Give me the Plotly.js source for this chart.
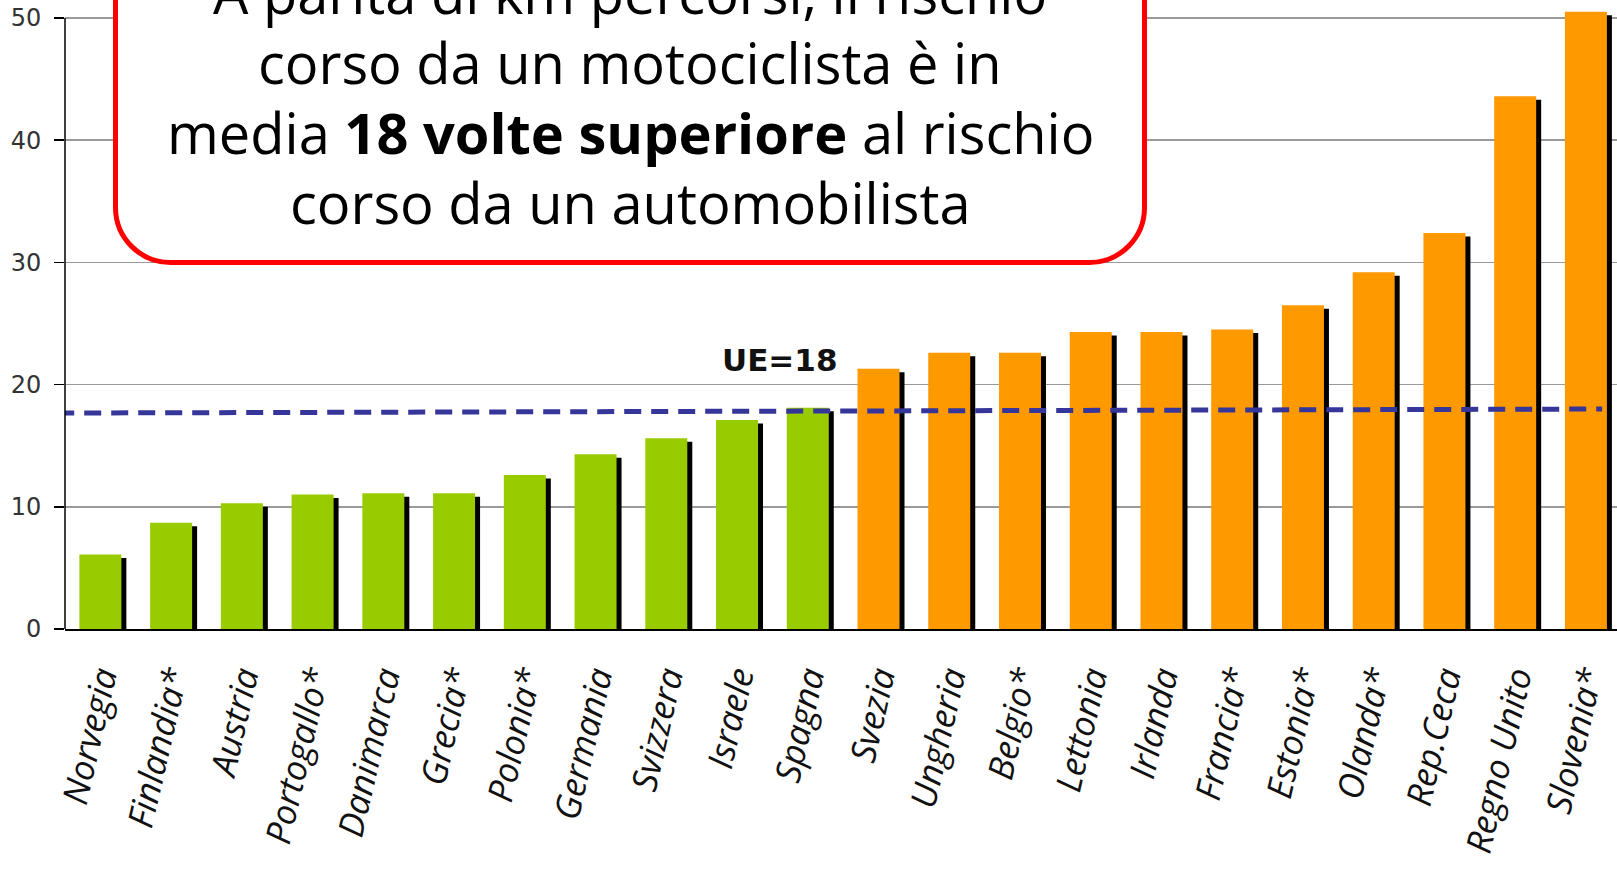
<!DOCTYPE html>
<html>
<head>
<meta charset="utf-8">
<script src="https://cdn.plot.ly/plotly-3.0.1.min.js"></script>
<style>
  html, body { margin: 0; padding: 0; background: #fff; }
  #chart { width: 1617px; height: 869px; }
</style>
</head>
<body>
<div id="chart"></div>
<script>
// Rischio motociclista / automobilista per km percorsi
const countries = ['Norvegia', 'Finlandia*', 'Austria', 'Portogallo*', 'Danimarca', 'Grecia*',
  'Polonia*', 'Germania', 'Svizzera', 'Israele', 'Spagna', 'Svezia', 'Ungheria', 'Belgio*',
  'Lettonia', 'Irlanda', 'Francia*', 'Estonia*', 'Olanda*', 'Rep.Ceca', 'Regno Unito', 'Slovenia*'];
const risk = [6.1, 8.7, 10.3, 11.0, 11.1, 11.1, 12.6, 14.3, 15.6, 17.1, 18.1,
  21.3, 22.6, 22.6, 24.3, 24.3, 24.5, 26.5, 29.2, 32.4, 43.6, 50.5];
const belowAvgCount = 11;          // first bars drawn in green
const ueLineX = [-0.61, 21.23];     // dashed UE line ends
const ueLineY = [17.67, 18.0];
const ueLabel = 'UE=18';
const yTicks = [0, 10, 20, 30, 40, 50];
const boxLines = [
  'A parità di km percorsi, il rischio',
  'corso da un motociclista è in',
  'media <b>18 volte superiore</b> al rischio',
  'corso da un automobilista'
];

// plot geometry (pixels)
const W = 1617, H = 869;
const L = 65, B = 240;
const plotW = W - L, plotH = H - B;
const band = 70.74;
const xRange = [-0.5, -0.5 + plotW / band];
const yRange = [0, 51.47];
const pxPerUnit = plotH / yRange[1];

const xs = countries.map((c, i) => i);
const colors = risk.map((v, i) => i < belowAvgCount ? '#99cc00' : '#ff9900');

const barW = 42 / band;
const shadowDx = 5 / band;
const shadowDy = 3.5 / pxPerUnit;

const shadow = {
  type: 'bar',
  x: xs,
  y: risk.map(v => v - shadowDy),
  width: barW,
  offset: -barW / 2 + shadowDx,
  marker: { color: '#000', line: { width: 0 } },
  hoverinfo: 'skip',
  showlegend: false,
};

const bars = {
  type: 'bar',
  x: xs,
  y: risk,
  width: barW,
  offset: -barW / 2,
  marker: { color: colors, line: { width: 0 } },
  showlegend: false,
};

const ueLine = {
  type: 'scatter',
  mode: 'lines',
  x: ueLineX,
  y: ueLineY,
  line: { color: '#35359a', width: 5, dash: '17px,10px' },
  cliponaxis: false,
  hoverinfo: 'skip',
  showlegend: false,
};

// helpers pixel -> paper
const xp = px => (px - L) / plotW;
const yp = py => (plotH - py) / plotH;

// rounded red box
function roundedBox(x0, y0, x1, y1, r) {
  const k = 0.5523 * r;
  const p = [];
  p.push(`M${xp(x0 + r)},${yp(y0)}`);
  p.push(`L${xp(x1 - r)},${yp(y0)}`);
  p.push(`C${xp(x1 - r + k)},${yp(y0)} ${xp(x1)},${yp(y0 + r - k)} ${xp(x1)},${yp(y0 + r)}`);
  p.push(`L${xp(x1)},${yp(y1 - r)}`);
  p.push(`C${xp(x1)},${yp(y1 - r + k)} ${xp(x1 - r + k)},${yp(y1)} ${xp(x1 - r)},${yp(y1)}`);
  p.push(`L${xp(x0 + r)},${yp(y1)}`);
  p.push(`C${xp(x0 + r - k)},${yp(y1)} ${xp(x0)},${yp(y1 - r + k)} ${xp(x0)},${yp(y1 - r)}`);
  p.push(`L${xp(x0)},${yp(y0 + r)}`);
  p.push(`C${xp(x0)},${yp(y0 + r - k)} ${xp(x0 + r - k)},${yp(y0)} ${xp(x0 + r)},${yp(y0)}`);
  p.push('Z');
  return p.join(' ');
}

const shapes = [
  { type: 'line', xref: 'paper', yref: 'y', x0: 0, x1: 1, y0: 50, y1: 50,
    line: { color: '#222', width: 1.5 }, layer: 'below' },
  { type: 'line', xref: 'paper', yref: 'y', x0: 0, x1: 0, y0: 0, y1: 50,
    line: { color: '#000', width: 1.5 } },
  { type: 'path', xref: 'paper', yref: 'paper', path: roundedBox(115.5, -80, 1144.5, 262.5, 55),
    fillcolor: '#fff', line: { color: '#ff0000', width: 5 }, layer: 'above' },
];

const boxFont = { family: 'Open Sans, sans-serif', size: 56, color: '#000' };
const baselines = [11.7, 81.7, 151.7, 221.7];
const annotations = boxLines.map((t, i) => ({
  xref: 'paper', yref: 'paper',
  x: xp(630), y: yp(baselines[i] - 0.35 * boxFont.size),
  xanchor: 'center', yanchor: 'middle',
  text: t, showarrow: false, font: boxFont,
}));
annotations.push({
  xref: 'x', yref: 'y', x: 9.6, y: 22.0,
  text: '<b>' + ueLabel + '</b>', showarrow: false,
  font: { family: 'DejaVu Sans, sans-serif', size: 31, color: '#111' },
});

const layout = {
  width: W,
  height: H,
  margin: { l: L, r: 0, t: 0, b: B, pad: 0 },
  paper_bgcolor: '#fff',
  plot_bgcolor: '#fff',
  barmode: 'overlay',
  showlegend: false,
  xaxis: {
    range: xRange,
    tickmode: 'array',
    tickvals: xs,
    ticktext: countries,
    tickangle: -77,
    ticks: '',
    showgrid: false,
    zeroline: false,
    showline: true,
    linecolor: '#000',
    linewidth: 2,
    ticklabelstandoff: 12,
    tickfont: { family: 'Open Sans, sans-serif', size: 35, color: '#111', style: 'italic' },
  },
  yaxis: {
    range: yRange,
    tickmode: 'array',
    tickvals: yTicks,
    ticks: 'outside',
    ticklen: 10,
    tickwidth: 1.5,
    tickcolor: '#000',
    showgrid: true,
    gridcolor: '#9a9a9a',
    gridwidth: 1.5,
    zeroline: false,
    showline: false,
    ticklabelstandoff: 8,
    tickfont: { family: 'DejaVu Sans, sans-serif', size: 24, color: '#333' },
  },
  shapes: shapes,
  annotations: annotations,
};

Plotly.newPlot('chart', [shadow, bars, ueLine], layout, { displayModeBar: false, staticPlot: true });
</script>
</body>
</html>
